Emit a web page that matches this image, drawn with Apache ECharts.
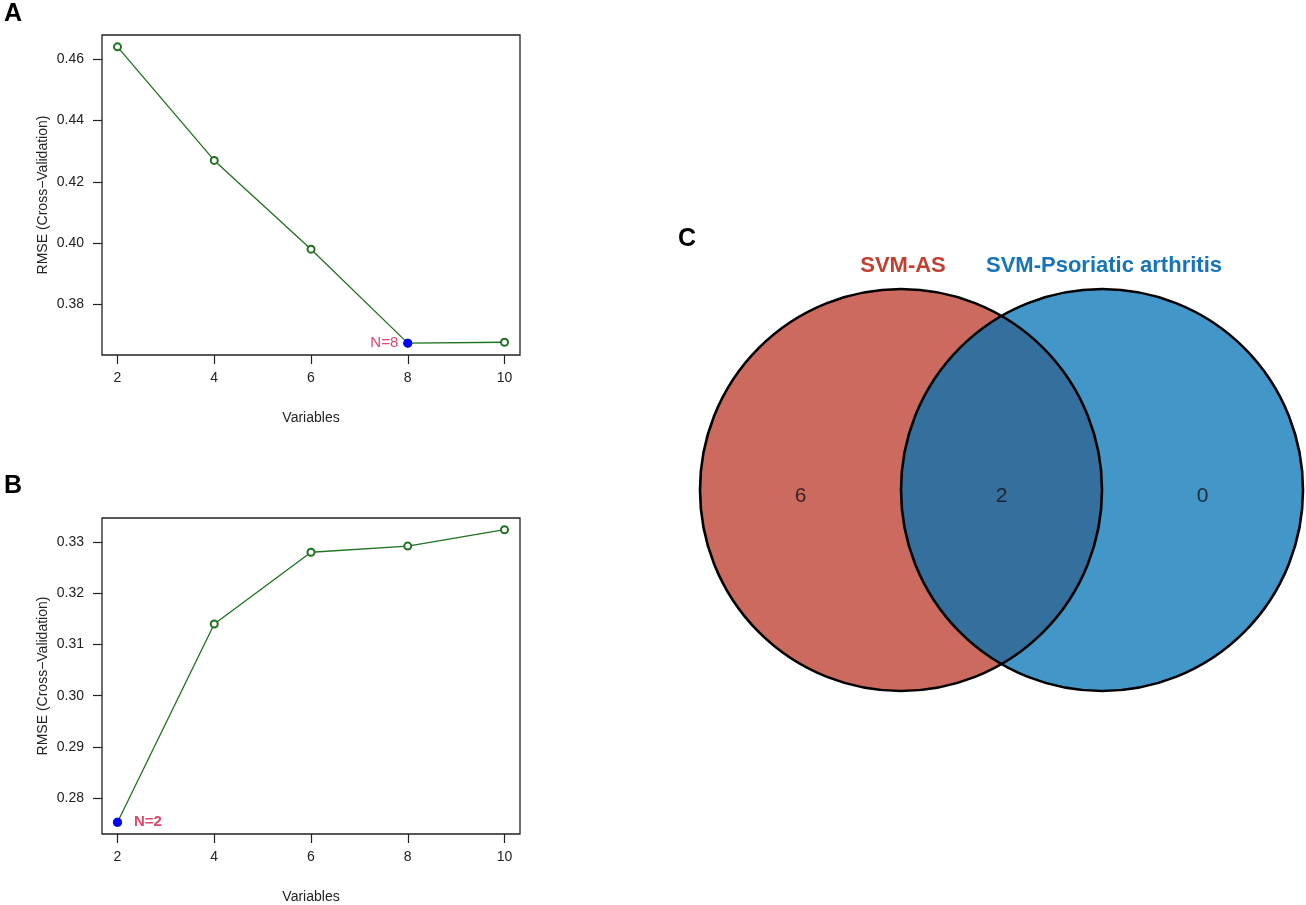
<!DOCTYPE html>
<html>
<head>
<meta charset="utf-8">
<script src="https://cdn.jsdelivr.net/npm/echarts@6/dist/echarts.min.js"></script>
<style>
  html, body { margin: 0; padding: 0; background: #fff; }
  #chart { width: 1306px; height: 905px; }
</style>
</head>
<body>
<div id="chart"></div>
<script>
// values
var variables = [2, 4, 6, 8, 10];
var rmseA = [0.4641, 0.4270, 0.3980, 0.3673, 0.3676];
var rmseB = [0.2753, 0.3140, 0.3280, 0.3292, 0.3324];
var yTicksA = [0.38, 0.40, 0.42, 0.44, 0.46];
var yTicksB = [0.28, 0.29, 0.30, 0.31, 0.32, 0.33];
var vennSets = ['SVM-AS', 'SVM-Psoriatic arthritis'];
var vennCounts = [6, 2, 0]; // AS only, both, PsA only

var chart = echarts.init(document.getElementById('chart'));
var font = 'Liberation Sans, Arial, Helvetica, sans-serif';
var green = '#1f721f';

// R style padding of 4% on each side
function pad(arr) {
  var mn = Math.min.apply(null, arr), mx = Math.max.apply(null, arr);
  var d = (mx - mn) * 0.04;
  return [mn - d, mx + d];
}
function argmin(arr) {
  var k = 0;
  for (var i = 1; i < arr.length; i++) if (arr[i] < arr[k]) k = i;
  return k;
}
function pairs(xs, ys) {
  return xs.map(function (x, i) { return [x, ys[i]]; });
}

var xr = pad(variables);
var yrA = pad(rmseA);
var yrB = pad(rmseB);
var bestA = argmin(rmseA);
var bestB = argmin(rmseB);

function xAxisFor(gi) {
  return {
    gridIndex: gi, type: 'value', min: xr[0], max: xr[1],
    name: 'Variables', nameLocation: 'middle', nameGap: 56,
    nameTextStyle: { fontFamily: font, fontSize: 14, color: '#222' },
    axisLine: { show: false },
    axisTick: { show: true, length: 9, inside: false, customValues: variables,
      lineStyle: { color: '#222', width: 1.2 } },
    axisLabel: { customValues: variables, margin: 16, fontFamily: font, fontSize: 14, color: '#222' },
    splitLine: { show: false }
  };
}
function yAxisFor(gi, yr, ticks) {
  return {
    gridIndex: gi, type: 'value', min: yr[0], max: yr[1],
    name: 'RMSE (Cross\u2212Validation)', nameLocation: 'middle', nameGap: 52,
    nameTextStyle: { fontFamily: font, fontSize: 14, color: '#222' },
    axisLine: { show: false },
    axisTick: { show: true, length: 9, inside: false, customValues: ticks,
      lineStyle: { color: '#222', width: 1.2 } },
    axisLabel: { customValues: ticks, margin: 18, fontFamily: font, fontSize: 14, color: '#222',
      formatter: function (v) { return v.toFixed(2); } },
    splitLine: { show: false }
  };
}

var vennCircles = [
  { cx: 0, cy: 0, r: 1, fill: '#CD6A5F' },
  { cx: 1, cy: 0, r: 1, fill: 'rgba(0,113,181,0.74)' }
];

function circleItem(params, api, stroke) {
  var c = vennCircles[params.dataIndex];
  var p = api.coord([c.cx, c.cy]);
  var r = api.size([c.r, 0])[0];
  return {
    type: 'circle',
    shape: { cx: p[0], cy: p[1], r: r },
    style: stroke
      ? { fill: 'none', stroke: '#000', lineWidth: 2.6 }
      : { fill: c.fill }
  };
}

chart.setOption({
  backgroundColor: '#fff',
  animation: false,
  grid: [
    { left: 102, right: 786, top: 35, height: 320, show: true, borderColor: '#222', borderWidth: 1.3 },
    { left: 102, right: 786, top: 518, height: 320, show: true, borderColor: '#222', borderWidth: 1.3 },
    { left: 700, width: 603, top: 289, height: 402, show: false }
  ],
  xAxis: [
    xAxisFor(0),
    xAxisFor(1),
    { gridIndex: 2, type: 'value', min: -1, max: 2, show: false }
  ],
  yAxis: [
    yAxisFor(0, yrA, yTicksA),
    yAxisFor(1, yrB, yTicksB),
    { gridIndex: 2, type: 'value', min: -1, max: 1, show: false }
  ],
  series: [
    {
      type: 'line', xAxisIndex: 0, yAxisIndex: 0, data: pairs(variables, rmseA), z: 2,
      symbol: 'emptyCircle', symbolSize: 7, showAllSymbol: true,
      lineStyle: { color: green, width: 1.3 },
      itemStyle: { color: green, borderColor: green, borderWidth: 1.3 }
    },
    {
      type: 'scatter', xAxisIndex: 0, yAxisIndex: 0, z: 5,
      data: [[variables[bestA], rmseA[bestA]]],
      symbolSize: 9, itemStyle: { color: '#0000ff', opacity: 1 },
      label: { show: true, position: 'left', distance: 5, formatter: 'N=' + variables[bestA],
        fontFamily: font, fontSize: 15, color: '#E0476A' }
    },
    {
      type: 'line', xAxisIndex: 1, yAxisIndex: 1, data: pairs(variables, rmseB), z: 2,
      symbol: 'emptyCircle', symbolSize: 7, showAllSymbol: true,
      lineStyle: { color: green, width: 1.3 },
      itemStyle: { color: green, borderColor: green, borderWidth: 1.3 }
    },
    {
      type: 'scatter', xAxisIndex: 1, yAxisIndex: 1, z: 5,
      data: [[variables[bestB], rmseB[bestB]]],
      symbolSize: 9, itemStyle: { color: '#0000ff', opacity: 1 },
      label: { show: true, position: 'right', distance: 12, formatter: 'N=' + variables[bestB],
        fontFamily: font, fontSize: 15, fontWeight: 'bold', color: '#E0476A' }
    },
    {
      type: 'custom', xAxisIndex: 2, yAxisIndex: 2, data: vennCircles.map(function (c, i) { return i; }),
      renderItem: function (params, api) { return circleItem(params, api, false); }
    },
    {
      type: 'custom', xAxisIndex: 2, yAxisIndex: 2, data: vennCircles.map(function (c, i) { return i; }),
      renderItem: function (params, api) { return circleItem(params, api, true); }
    },
    {
      type: 'scatter', xAxisIndex: 2, yAxisIndex: 2, symbolSize: 0, z: 5,
      data: [[-0.5, -0.03, vennCounts[0]], [0.5, -0.03, vennCounts[1]], [1.5, -0.03, vennCounts[2]]],
      label: { show: true, position: 'inside', formatter: function (p) { return String(p.value[2]); },
        fontFamily: font, fontSize: 21, color: '#111' }
    }
  ],
  graphic: [
    { type: 'text', left: 4, top: 2, style: { text: 'A', font: 'bold 25px ' + font, fill: '#000' } },
    { type: 'text', left: 4, top: 474, style: { text: 'B', font: 'bold 25px ' + font, fill: '#000' } },
    { type: 'text', left: 678, top: 227, style: { text: 'C', font: 'bold 25px ' + font, fill: '#000' } },
    { type: 'text', x: 903, y: 266, style: { text: vennSets[0], font: 'bold 22px ' + font, fill: '#C2402F',
      textAlign: 'center', textVerticalAlign: 'middle' } },
    { type: 'text', x: 1104, y: 266, style: { text: vennSets[1], font: 'bold 22px ' + font, fill: '#1675BA',
      textAlign: 'center', textVerticalAlign: 'middle' } }
  ]
});
</script>
</body>
</html>
